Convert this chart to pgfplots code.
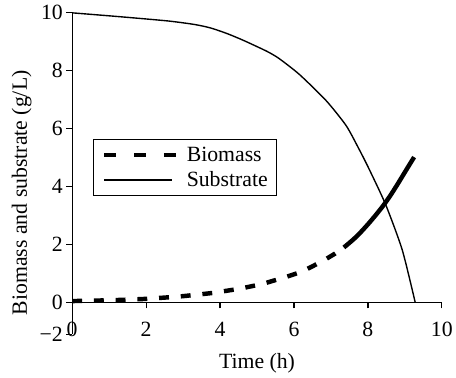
\documentclass[border=0pt]{standalone}
\usepackage{fontspec}
\setmainfont{Liberation Serif}
\usepackage{pgfplots}
\pgfplotsset{compat=1.18}
\begin{document}
\begin{tikzpicture}
\begin{axis}[
  name=main,
  scale only axis, width=374bp, height=325bp,
  xmin=0, xmax=10, ymin=-1.09, ymax=10,
  axis y line=left, axis x line=middle,
  axis line style={-, line width=1.2bp, black},
  hide obscured x ticks=false,
  tick align=outside,
  major tick length=6bp,
  tick style={line width=1.2bp, black},
  xtick={0,2,4,6,8,10}, ytick={-1.09,0,2,4,6,8,10},
  xticklabels={0,2,4,6,8,10},
  yticklabels={−2,0,2,4,6,8,10},
  tick label style={font=\fontsize{22bp}{26bp}\selectfont},
  xticklabel style={yshift=-10bp},
  every axis x label/.style={at={(axis description cs:0.5,0)}, anchor=center, yshift=-30bp, font=\fontsize{22bp}{26bp}\selectfont},
  every axis y label/.style={at={(axis description cs:0,0.44)}, xshift=-51bp, rotate=90, anchor=center, font=\fontsize{22bp}{26bp}\selectfont},
  xlabel={Time (h)},
  ylabel={Biomass and substrate (g/L)},
  legend style={at={(axis cs:0.56,5.63)}, anchor=north west, draw=black, line width=1bp,
    font=\fontsize{22bp}{26bp}\selectfont, inner xsep=9bp, inner ysep=7bp, row sep=9bp,
    nodes={inner sep=0bp},
    /tikz/every odd column/.append style={column sep=9bp}},
  legend cell align=left,
  clip=false,
]
\addplot[black, line width=4.5bp, dash pattern=on 10bp off 12bp,
  legend image code/.code={\draw[line width=4.5bp, dash pattern=on 12bp off 18bp] (0bp,0bp) -- (72bp,0bp);}]
  coordinates {
  (0,0.05) (0.75,0.07) (1.3,0.09) (1.9,0.12) (2.5,0.17) (3.0,0.22) (3.3,0.26)
  (3.8,0.33) (4.2,0.41) (4.5,0.47) (5.0,0.60) (5.25,0.68) (5.8,0.89) (6.2,1.06)
  (6.5,1.25) (6.8,1.45) (7.1,1.68) (7.35,1.90)
  };
\addlegendentry{Biomass}
\addplot[black, line width=1.4bp, smooth, tension=0.4,
  legend image code/.code={\draw[line width=1.4bp] (0bp,0bp) -- (68bp,0bp);}]
  coordinates {
  (0,10.0) (1.26,9.87) (2.59,9.72) (3.3,9.6) (3.74,9.48) (4.2,9.28) (4.65,9.04)
  (5.27,8.67) (5.6,8.42) (6.15,7.87) (6.87,6.97) (7.41,6.11) (7.75,5.32)
  (8.02,4.64) (8.48,3.38) (8.93,1.81) (9.28,0)
  };
\addlegendentry{Substrate}
\addplot[black, line width=4.5bp, smooth, tension=0.4, forget plot]
  coordinates {
  (7.35,1.90) (7.6,2.17) (7.8,2.42) (8.0,2.7) (8.2,3.0) (8.4,3.32) (8.6,3.68)
  (8.8,4.08) (9.0,4.5) (9.25,5.02)
  };
\end{axis}
\path ([xshift=-73bp,yshift=-44bp]main.south west) rectangle ([xshift=9bp,yshift=13bp]main.north east);
\end{tikzpicture}
\end{document}
